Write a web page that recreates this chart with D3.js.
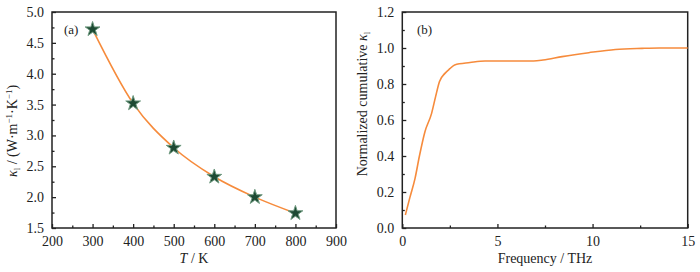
<!DOCTYPE html>
<html><head><meta charset="utf-8">
<script src="https://cdn.jsdelivr.net/npm/d3@7"></script>
<style>body{margin:0;background:#fff}svg{display:block}text{font-family:"Liberation Serif","DejaVu Serif",serif;fill:#222}</style>
</head><body>
<svg id="c" width="700" height="272"></svg>
<script>
// Panel (a)
const tempK = [300, 400, 500, 600, 700, 800];
const kappaL = [4.72, 3.52, 2.80, 2.33, 2.00, 1.74];
const aXTicks = [200, 300, 400, 500, 600, 700, 800, 900];
const aYTicks = [1.5, 2.0, 2.5, 3.0, 3.5, 4.0, 4.5, 5.0];
// Panel (b)
const freqTHz = [0.16, 0.4, 0.67, 0.9, 1.19, 1.54, 1.75, 1.95, 2.24, 2.5, 2.75, 3.56, 4.35, 5.5, 6.9, 7.4, 8.4, 9.8, 11.2, 12.6, 13.5, 15];
const cumK = [0.072, 0.17, 0.276, 0.40, 0.535, 0.637, 0.73, 0.813, 0.859, 0.885, 0.906, 0.919, 0.928, 0.928, 0.928, 0.933, 0.952, 0.974, 0.992, 0.998, 1.0, 1.0];
const bXTicks = [0, 5, 10, 15];
const bYTicks = [0.0, 0.2, 0.4, 0.6, 0.8, 1.0, 1.2];

const svg = d3.select("#c");
const plotTop = 12, plotBottom = 228;
const orange = "#f68b3c", green = "#1d4a33";

function frame(g, x, y, xt, yt, xminor, yminor, xfmt, yfmt) {
  const [x0, x1] = x.range(), [y0, y1] = y.range();
  g.append("rect").attr("x", x0).attr("y", y1).attr("width", x1 - x0).attr("height", y0 - y1)
    .attr("fill", "none").attr("stroke", "#222").attr("stroke-width", 1.5);
  const xa = d3.axisBottom(x).tickValues(xt).tickSize(-4).tickPadding(8).tickFormat(xfmt);
  const ya = d3.axisLeft(y).tickValues(yt).tickSize(-4).tickPadding(8).tickFormat(yfmt);
  g.append("g").attr("transform", `translate(0,${y0})`).call(xa);
  g.append("g").attr("transform", `translate(${x0},0)`).call(ya);
  g.append("g").attr("transform", `translate(0,${y0})`).call(d3.axisBottom(x).tickValues(xminor).tickSize(-2.5).tickFormat(""));
  g.append("g").attr("transform", `translate(${x0},0)`).call(d3.axisLeft(y).tickValues(yminor).tickSize(-2.5).tickFormat(""));
  g.selectAll(".domain").remove();
  g.selectAll(".tick line").attr("stroke", "#222").attr("stroke-width", 1.3);
  g.selectAll(".tick text").attr("font-size", 14).attr("font-family", "Liberation Serif").attr("fill", "#222");
}

// Panel (a)
const ga = svg.append("g");
const xa = d3.scaleLinear().domain([200, 900]).range([52, 336]);
const ya = d3.scaleLinear().domain([1.5, 5.0]).range([plotBottom, plotTop]);
frame(ga, xa, ya, aXTicks, aYTicks, d3.range(250, 900, 100), d3.range(1.75, 5, 0.5), d3.format("d"), d3.format(".1f"));
const la = tempK.map((t, i) => [t, kappaL[i]]);
ga.append("path").attr("d", d3.line().x(d => xa(d[0])).y(d => ya(d[1])).curve(d3.curveMonotoneX)(la))
  .attr("fill", "none").attr("stroke", orange).attr("stroke-width", 1.6);
ga.selectAll(".star").data(la).join("path")
  .attr("transform", d => `translate(${xa(d[0])},${ya(d[1])})`)
  .attr("d", d3.symbol(d3.symbolStar, 68))
  .attr("fill", green).attr("stroke", "#6f9a80").attr("stroke-width", 1).attr("stroke-linejoin", "round");
ga.append("text").attr("x", 64).attr("y", 34).attr("font-size", 13).text("(a)");
ga.append("text").attr("x", 194).attr("y", 263).attr("text-anchor", "middle").attr("font-size", 14)
  .html('<tspan font-style="italic">T</tspan> / K');
ga.append("text").attr("transform", "translate(17,131) rotate(-90)").attr("text-anchor", "middle").attr("font-size", 14)
  .html('<tspan font-style="italic">κ</tspan><tspan font-size="9" dy="3">l</tspan><tspan dy="-3"> / (W·m</tspan><tspan font-size="9" dy="-5">−1</tspan><tspan dy="5">·K</tspan><tspan font-size="9" dy="-5">−1</tspan><tspan dy="5">)</tspan>');

// Panel (b)
const gb = svg.append("g");
const xb = d3.scaleLinear().domain([0, 15]).range([402.3, 687.7]);
const yb = d3.scaleLinear().domain([0, 1.2]).range([plotBottom, plotTop]);
frame(gb, xb, yb, bXTicks, bYTicks, [2.5, 7.5, 12.5], d3.range(0.1, 1.2, 0.2), d3.format("d"), d3.format(".1f"));
const lb = freqTHz.map((f, i) => [f, cumK[i]]);
gb.append("path").attr("d", d3.line().x(d => xb(d[0])).y(d => yb(d[1])).curve(d3.curveMonotoneX)(lb))
  .attr("fill", "none").attr("stroke", orange).attr("stroke-width", 1.6);
gb.append("text").attr("x", 417).attr("y", 34).attr("font-size", 13).text("(b)");
gb.append("text").attr("x", 545).attr("y", 263).attr("text-anchor", "middle").attr("font-size", 14).text("Frequency / THz");
gb.append("text").attr("transform", "translate(367,104) rotate(-90)").attr("text-anchor", "middle").attr("font-size", 14)
  .html('Normalized cumulative <tspan font-style="italic">κ</tspan><tspan font-size="9" dy="3">l</tspan>');
</script>
</body></html>
